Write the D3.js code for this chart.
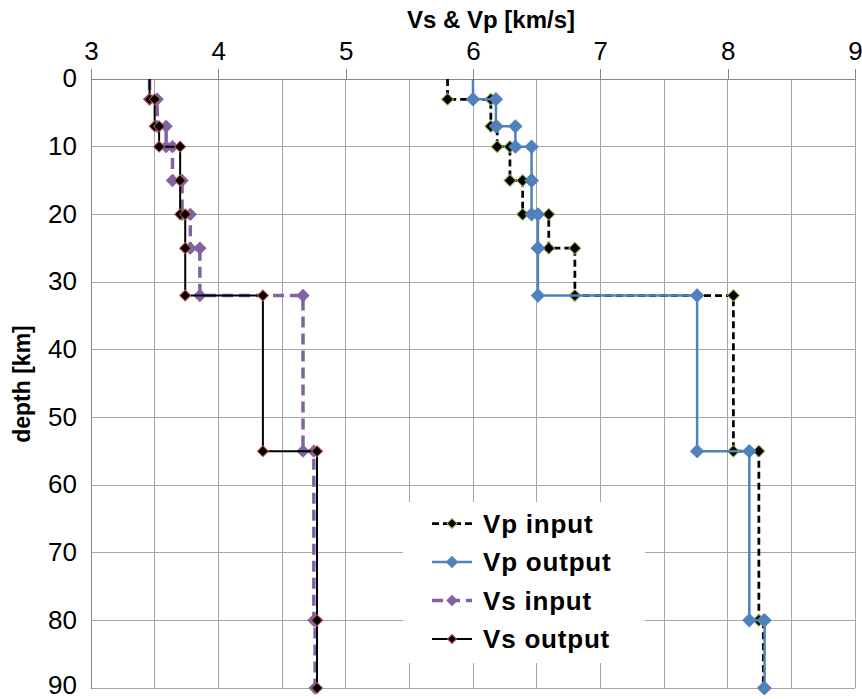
<!DOCTYPE html>
<html>
<head>
<meta charset="utf-8">
<script src="https://cdn.jsdelivr.net/npm/d3@7"></script>
<style>
body { margin: 0; background: #fff; }
svg { display: block; font-family: "Liberation Sans", Arial, sans-serif; }
</style>
</head>
<body>
<div id="chart"></div>
<script>
// layered velocity model, depth in km, velocity in km/s
var layerTop    = [0, 3, 7, 10, 15, 20, 25, 32, 55, 80];
var layerBottom = [3, 7, 10, 15, 20, 25, 32, 55, 80, 90];

var vpInput  = [5.80, 6.14, 6.19, 6.29, 6.39, 6.595, 6.80, 8.045, 8.245, 8.28];
var vpOutput = [6.00, 6.18, 6.333, 6.46, 6.46, 6.51, 6.51, 7.76, 8.17, 8.29];
var vsInput  = [3.46, 3.52, 3.59, 3.64, 3.715, 3.78, 3.855, 4.665, 4.75, 4.76];
var vsOutput = [3.46, 3.50, 3.535, 3.70, 3.70, 3.74, 3.74, 4.35, 4.775, 4.775];

var seriesNames = ["Vp input", "Vp output", "Vs input", "Vs output"];
var xTicks = [3, 4, 5, 6, 7, 8, 9];
var yTicks = [0, 10, 20, 30, 40, 50, 60, 70, 80, 90];

var margin = {top: 79, right: 7, bottom: 11, left: 91},
    width = 862 - margin.left - margin.right,
    height = 699 - margin.top - margin.bottom;

var x = d3.scaleLinear().domain([3, 9]).range([0, width]);
var y = d3.scaleLinear().domain([0, 90]).range([0, height]);

var styles = [
  {stroke: "#000", width: 2.75, dash: "7,4", fill: "#000", outline: "#9BBB59", r: 6},
  {stroke: "#4F81BD", width: 2.5, dash: null, fill: "#4F81BD", outline: "#4F81BD", r: 6.5},
  {stroke: "#8064A2", width: 3.5, dash: "11,6", fill: "#8064A2", outline: "#8064A2", r: 6},
  {stroke: "#000", width: 2, dash: null, fill: "#000", outline: "#C0504D", r: 5.5}
];

function steps(vals) {
  var pts = [];
  vals.forEach(function(v, i) {
    pts.push({v: v, d: layerTop[i]});
    pts.push({v: v, d: layerBottom[i]});
  });
  return pts;
}

var series = [vpInput, vpOutput, vsInput, vsOutput].map(function(vals, i) {
  return {name: seriesNames[i], points: steps(vals), style: styles[i]};
});

var svg = d3.select("#chart").append("svg")
    .attr("width", 862)
    .attr("height", 699);

var g = svg.append("g")
    .attr("transform", "translate(" + margin.left + "," + margin.top + ")");

// grid
g.append("g").selectAll("line")
    .data(d3.range(3, 9.001, 0.5))
  .enter().append("line")
    .attr("x1", function(d) { return x(d); })
    .attr("x2", function(d) { return x(d); })
    .attr("y1", 0).attr("y2", height)
    .attr("stroke", "#A6A6A6").attr("stroke-width", 1)
    .attr("shape-rendering", "crispEdges");

g.append("g").selectAll("line")
    .data(yTicks)
  .enter().append("line")
    .attr("x1", 0).attr("x2", width)
    .attr("y1", function(d) { return y(d); })
    .attr("y2", function(d) { return y(d); })
    .attr("stroke", "#A6A6A6").attr("stroke-width", 1)
    .attr("shape-rendering", "crispEdges");

// axes
var xAxis = d3.axisTop(x).tickValues(xTicks).tickSize(10).tickPadding(9).tickFormat(d3.format("d"));
var yAxis = d3.axisLeft(y).tickValues(yTicks).tickSize(0).tickPadding(14).tickFormat(d3.format("d"));

var gx = g.append("g").call(xAxis);
var gy = g.append("g").call(yAxis);

[gx, gy].forEach(function(a) {
  a.select(".domain").attr("stroke", "#868686").attr("shape-rendering", "crispEdges");
  a.selectAll(".tick line").attr("stroke", "#868686").attr("shape-rendering", "crispEdges");
  a.selectAll(".tick text")
      .attr("fill", "#000")
      .style("font-family", "'Liberation Sans', Arial, sans-serif")
      .style("font-size", "26px");
});
// last label sits on the bottom edge; lift it just enough to stay inside
gy.selectAll(".tick text").attr("dy", function(d) { return d === 90 ? "0.2em" : "0.3em"; });

svg.append("text")
    .attr("x", margin.left + x(6) + 18)
    .attr("y", 28)
    .attr("text-anchor", "middle")
    .style("font-size", "24px")
    .style("font-weight", "bold")
    .text("Vs & Vp [km/s]");

svg.append("text")
    .attr("transform", "translate(30,384) rotate(-90)")
    .attr("text-anchor", "middle")
    .style("font-size", "23px")
    .style("font-weight", "bold")
    .text("depth [km]");

// series
g.append("clipPath").attr("id", "plot-clip")
  .append("rect")
    .attr("x", -20).attr("y", 0)
    .attr("width", width + 40).attr("height", height + 20);

var line = d3.line()
    .x(function(d) { return x(d.v); })
    .y(function(d) { return y(d.d); });

var diamond = function(r) {
  return d3.symbol().type(d3.symbolSquare).size(2 * r * r)();
};

var plot = g.append("g").attr("clip-path", "url(#plot-clip)");

series.forEach(function(s) {
  var sg = plot.append("g");
  sg.append("path")
      .datum(s.points)
      .attr("fill", "none")
      .attr("stroke", s.style.stroke)
      .attr("stroke-width", s.style.width)
      .attr("stroke-dasharray", s.style.dash)
      .attr("d", line);

  sg.selectAll(".mark")
      .data(s.points.filter(function(d) { return d.d > 0; }))
    .enter().append("path")
      .attr("class", "mark")
      .attr("transform", function(d) { return "translate(" + x(d.v) + "," + y(d.d) + ") rotate(45)"; })
      .attr("d", diamond(s.style.r))
      .attr("fill", s.style.fill)
      .attr("stroke", s.style.outline)
      .attr("stroke-width", 1);
});

// legend
var legend = svg.append("g").attr("transform", "translate(403,502)");

legend.append("rect")
    .attr("width", 242)
    .attr("height", 161)
    .attr("fill", "#fff");

var item = legend.selectAll(".item")
    .data(series)
  .enter().append("g")
    .attr("class", "item")
    .attr("transform", function(d, i) { return "translate(0," + (21.5 + i * 38.5) + ")"; });

item.append("line")
    .attr("x1", 29).attr("x2", 69)
    .attr("stroke", function(d) { return d.style.stroke; })
    .attr("stroke-width", function(d) { return d.style.width; })
    .attr("stroke-dasharray", function(d) { return d.style.dash; });

item.append("path")
    .attr("transform", "translate(49,0) rotate(45)")
    .attr("d", function(d) { return diamond(d.style.r - 1); })
    .attr("fill", function(d) { return d.style.fill; })
    .attr("stroke", function(d) { return d.style.outline; })
    .attr("stroke-width", 1);

item.append("text")
    .attr("x", 80)
    .attr("dy", "0.36em")
    .style("font-size", "26px")
    .style("font-weight", "bold")
    .style("letter-spacing", "0.8px")
    .text(function(d) { return d.name; });
</script>
</body>
</html>
